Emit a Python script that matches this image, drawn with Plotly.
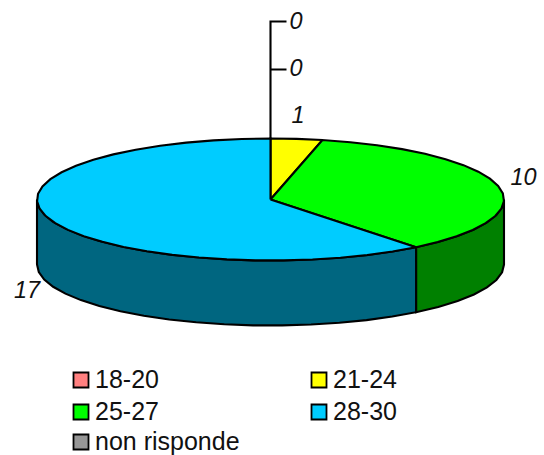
import math
import plotly.graph_objects as go

categories = ["18-20", "21-24", "25-27", "28-30", "non risponde"]
values = [0, 1, 10, 17, 0]
top_colors = ["#FF8080", "#FFFF00", "#00FF00", "#00CCFF", "#969696"]
side_colors = ["#804040", "#808000", "#008000", "#006680", "#4B4B4B"]

CX, CY, RX, RY, DEPTH = 270.5, 199.5, 233.5, 61, 65
STEP = 7.0
LW = 2.1
FONT = "Liberation Sans"

def pt(a, dy=0.0):
    r = math.radians(a)
    return CX + RX * math.sin(r), CY - RY * math.cos(r) + dy

def arc(a0, a1, dy=0.0):
    n = max(1, int(round((a1 - a0) / STEP)))
    return [pt(a0 + (a1 - a0) * i / n, dy) for i in range(n + 1)]

total = sum(values)
spans = []
acc = 0.0
for v in values:
    spans.append((acc, acc + v / total * 360))
    acc += v / total * 360

fig = go.Figure()

def poly(points, color):
    fig.add_trace(go.Scatter(
        x=[p[0] for p in points] + [points[0][0]],
        y=[p[1] for p in points] + [points[0][1]],
        mode="lines", fill="toself", fillcolor=color,
        line=dict(color="black", width=LW), hoverinfo="skip", showlegend=False))

# side walls: only the part of the rim that faces the viewer (90..270 deg)
for (a0, a1), v, c in zip(spans, values, side_colors):
    lo, hi = max(a0, 90), min(a1, 270)
    if v > 0 and hi > lo:
        upper = arc(lo, hi)
        lower = arc(lo, hi, DEPTH)
        poly(upper + lower[::-1], c)

# top faces
for (a0, a1), v, c in zip(spans, values, top_colors):
    if v > 0:
        poly([(CX, CY)] + arc(a0, a1), c)

# leader axis for the zero-valued slices
TOP_Y, MID_Y, TICK = 21.5, 69.5, 16
fig.add_trace(go.Scatter(
    x=[CX + TICK, CX, CX, CX, CX + TICK, CX, CX],
    y=[TOP_Y, TOP_Y, MID_Y, MID_Y, MID_Y, MID_Y, CY - RY],
    mode="lines", line=dict(color="black", width=LW),
    hoverinfo="skip", showlegend=False))

# value labels
lab_x = [296, 298, 523.5, 27, 296]
lab_y = [23, 117, 179, 292, 70]
fig.add_trace(go.Scatter(
    x=lab_x, y=lab_y, mode="text", text=[str(v) for v in values],
    textposition="middle center",
    textfont=dict(family=FONT, size=23.5, color="#111111", style="italic"),
    hoverinfo="skip", showlegend=False))

# legend
leg_x = [81, 319, 81, 319, 81]
leg_y = [380, 380, 412, 412, 442]
fig.add_trace(go.Scatter(
    x=leg_x, y=leg_y, mode="markers",
    marker=dict(symbol="square", size=15, color=top_colors,
                line=dict(color="black", width=1.8)),
    hoverinfo="skip", showlegend=False))
fig.add_trace(go.Scatter(
    x=[x + 14 for x in leg_x], y=[y + 1.5 for y in leg_y], mode="text", text=categories,
    textposition="middle right",
    textfont=dict(family=FONT, size=25, color="#111111"),
    hoverinfo="skip", showlegend=False))

fig.update_layout(
    width=544, height=455, margin=dict(l=0, r=0, t=0, b=0),
    paper_bgcolor="white", plot_bgcolor="white",
    xaxis=dict(range=[0, 544], visible=False, fixedrange=True),
    yaxis=dict(range=[455, 0], visible=False, fixedrange=True),
    showlegend=False)

fig.write_html("out.html", post_script="document.body.style.margin='0';",
               config={"displayModeBar": False})
